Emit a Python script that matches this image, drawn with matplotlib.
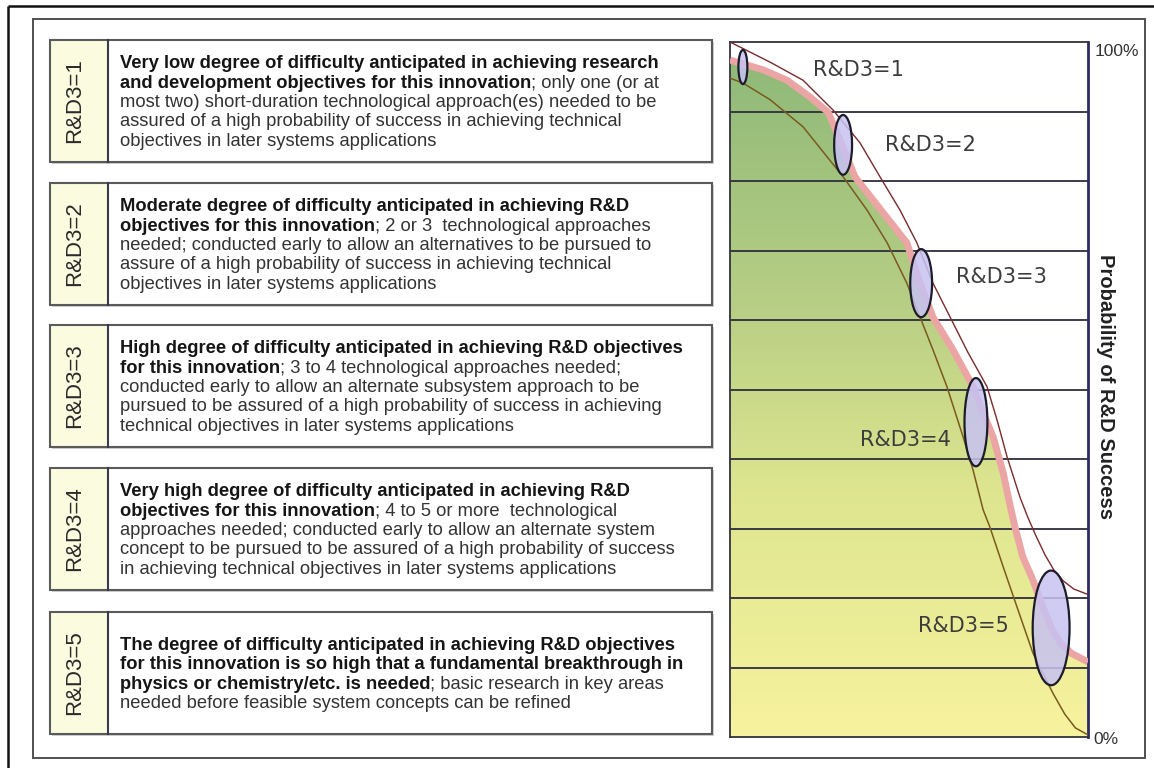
import numpy as np
import matplotlib
matplotlib.use("Agg")
import matplotlib.pyplot as plt
from matplotlib.patches import Rectangle, Ellipse, Polygon
from matplotlib.colors import LinearSegmentedColormap

# ---------------- data ----------------
level_labels = ["R&D3=1", "R&D3=2", "R&D3=3", "R&D3=4", "R&D3=5"]

descriptions = [
    [[("Very low degree of difficulty anticipated in achieving research", True)],
     [("and development objectives for this innovation", True), ("; only one (or at", False)],
     [("most two) short-duration technological approach(es) needed to be", False)],
     [("assured of a high probability of success in achieving technical", False)],
     [("objectives in later systems applications", False)]],
    [[("Moderate degree of difficulty anticipated in achieving R&D", True)],
     [("objectives for this innovation", True), ("; 2 or 3  technological approaches", False)],
     [("needed; conducted early to allow an alternatives to be pursued to", False)],
     [("assure of a high probability of success in achieving technical", False)],
     [("objectives in later systems applications", False)]],
    [[("High degree of difficulty anticipated in achieving R&D objectives", True)],
     [("for this innovation", True), ("; 3 to 4 technological approaches needed;", False)],
     [("conducted early to allow an alternate subsystem approach to be", False)],
     [("pursued to be assured of a high probability of success in achieving", False)],
     [("technical objectives in later systems applications", False)]],
    [[("Very high degree of difficulty anticipated in achieving R&D", True)],
     [("objectives for this innovation", True), ("; 4 to 5 or more  technological", False)],
     [("approaches needed; conducted early to allow an alternate system", False)],
     [("concept to be pursued to be assured of a high probability of success", False)],
     [("in achieving technical objectives in later systems applications", False)]],
    [[("The degree of difficulty anticipated in achieving R&D objectives", True)],
     [("for this innovation is so high that a fundamental breakthrough in", True)],
     [("physics or chemistry/etc. is needed", True), ("; basic research in key areas", False)],
     [("needed before feasible system concepts can be refined", False)]],
]

# curves: x = relative difficulty (0..1), y = probability of success (%)
outer_x = [0.0, 0.112, 0.204, 0.288, 0.363, 0.419, 0.475, 0.522, 0.567, 0.615,
           0.665, 0.718, 0.746, 0.774, 0.810, 0.832, 0.855, 0.880, 0.905, 0.930, 0.960, 1.0]
outer_y = [100.0, 97.1, 94.5, 90.2, 85.5, 80.6, 75.8, 71.1, 65.3, 60.4,
           55.3, 50.4, 45.6, 40.3, 34.5, 31.6, 28.9, 26.2, 24.0, 22.5, 21.3, 20.5]

mid_x = [0.0, 0.092, 0.159, 0.223, 0.274, 0.313, 0.349, 0.422, 0.494, 0.531, 0.567,
         0.623, 0.679, 0.707, 0.735, 0.763, 0.782, 0.796, 0.818, 0.846, 0.874,
         0.902, 0.925, 0.955, 1.0]
mid_y = [97.4, 96.0, 94.5, 92.1, 89.9, 85.2, 80.6, 75.8, 71.1, 65.3, 60.4,
         55.7, 50.4, 46.6, 43.2, 38.0, 33.4, 30.2, 25.9, 22.6, 18.7,
         15.2, 13.4, 12.0, 10.8]

inner_x = [0.0, 0.036, 0.112, 0.204, 0.316, 0.383, 0.439, 0.494, 0.531, 0.567,
           0.606, 0.651, 0.679, 0.707, 0.726, 0.763, 0.791, 0.846, 0.902, 0.935, 0.965, 1.0]
inner_y = [94.8, 94.1, 91.7, 87.8, 80.6, 75.8, 71.1, 65.3, 60.4, 55.7,
           50.4, 43.2, 38.4, 32.7, 30.2, 24.5, 20.3, 12.1, 6.3, 3.3, 1.3, 0.3]

# uncertainty ellipses for each level
ell_x = [0.036, 0.316, 0.534, 0.687, 0.897]
ell_y = [96.4, 85.2, 65.3, 45.3, 15.7]
ell_dx = [0.025, 0.050, 0.061, 0.064, 0.103]
ell_dy = [4.9, 8.6, 9.8, 12.7, 16.5]

# ---------------- layout / style ----------------
W, H = 1154, 768
fig = plt.figure(figsize=(W / 100, H / 100), dpi=100)
ax = fig.add_axes([0, 0, 1, 1])
ax.set_xlim(0, W)
ax.set_ylim(H, 0)
ax.axis("off")

# frames
ax.plot([8, W], [6, 6], color="#111111", lw=1.8, solid_capstyle="butt")
ax.plot([8, 8], [6, H], color="#111111", lw=1.8, solid_capstyle="butt")
ax.add_patch(Rectangle((33, 19), 1145 - 33, 758 - 19, fill=False, ec="#505050", lw=1.4))

FS = 13.2
FAM = "Liberation Sans"
box_tops = [40, 183, 325, 468, 612]
box_h = 122
bx0, bx1, lab_x1 = 50, 712, 108
line_sp = 19.3

renderer = fig.canvas.get_renderer()
inv = ax.transData.inverted()

for i, top in enumerate(box_tops):
    ax.add_patch(Rectangle((bx0 + 1.5, top + 1.5), bx1 - bx0, box_h, fc="#d0d0d0", ec="none", zorder=1))
    ax.add_patch(Rectangle((bx0, top), lab_x1 - bx0, box_h, fc="#fbfbdf", ec="none", zorder=2))
    ax.add_patch(Rectangle((lab_x1, top), bx1 - lab_x1, box_h, fc="white", ec="none", zorder=2))
    ax.add_patch(Rectangle((bx0, top), bx1 - bx0, box_h, fill=False, ec="#5a5a5a", lw=1.5, zorder=3))
    ax.plot([lab_x1, lab_x1], [top, top + box_h], color="#3a3a4a", lw=1.5, zorder=3)
    cy = top + box_h / 2
    ax.text(75, cy, level_labels[i], rotation=90, ha="center", va="center",
            fontsize=16, family=FAM, color="#2a2a2a", zorder=4)
    lines = descriptions[i]
    n = len(lines)
    for j, segs in enumerate(lines):
        yc = cy + (j - (n - 1) / 2) * line_sp
        x = 120
        for txt, bold in segs:
            t = ax.text(x, yc + 6.0, txt, fontsize=FS, family=FAM,
                        fontweight="bold" if bold else "normal",
                        color="#151515" if bold else "#333333",
                        ha="left", va="baseline", zorder=4)
            bb = t.get_window_extent(renderer)
            x = inv.transform((bb.x1, bb.y0))[0]

# ---------------- chart ----------------
cl, ct, cr, cb = 730, 42, 1088, 737
cax = fig.add_axes([cl / W, (H - cb) / H, (cr - cl) / W, (cb - ct) / H])
cax.set_xlim(0, 1)
cax.set_ylim(0, 100)
cax.set_xticks([])
cax.set_yticks([])
cax.set_facecolor("white")

cmap = LinearSegmentedColormap.from_list(
    "gy", [(0.0, (0.97, 0.95, 0.62)), (0.35, (0.87, 0.90, 0.56)),
           (0.62, (0.72, 0.81, 0.52)), (1.0, (0.55, 0.72, 0.47))])
grad = np.linspace(0, 1, 256).reshape(-1, 1)
poly = Polygon(list(zip([0.0] + mid_x + [1.0], [0.0] + mid_y + [0.0])),
               closed=True, fc="none", ec="none", transform=cax.transData)
cax.add_patch(poly)
im = cax.imshow(grad, extent=[0, 1, 0, 100], origin="lower", aspect="auto", cmap=cmap, zorder=1)
im.set_clip_path(poly)

for yv in range(10, 100, 10):
    cax.axhline(yv, color="#2e2e3c", lw=1.3, zorder=2)

cax.plot(mid_x, mid_y, color="#eba5a5", lw=5.0, solid_capstyle="butt", solid_joinstyle="round", zorder=3)
cax.plot(outer_x, outer_y, color="#7a2b2b", lw=1.0, solid_joinstyle="round", zorder=3)
cax.plot(inner_x, inner_y, color="#7a5a1e", lw=1.1, solid_joinstyle="round", zorder=3)

for x, y, dx, dy in zip(ell_x, ell_y, ell_dx, ell_dy):
    cax.add_patch(Ellipse((x, y), dx, dy, fc=(0.78, 0.76, 0.95, 0.85), ec="#1c1c2a", lw=1.6, zorder=5))

label_pos = [(0.358, 96.0), (0.559, 85.2), (0.757, 66.2), (0.489, 42.7), (0.651, 16.0)]
for (lx, ly), lab in zip(label_pos, level_labels):
    cax.text(lx, ly, lab, fontsize=15, family="DejaVu Sans", color="#3c3c3c",
             ha="center", va="center", zorder=6)

for s in ["left", "top", "bottom"]:
    cax.spines[s].set_color("#333340")
    cax.spines[s].set_linewidth(1.3)
cax.spines["right"].set_color("#2a2a66")
cax.spines["right"].set_linewidth(2.0)

ax.text(1095, 51, "100%", fontsize=12.5, family=FAM, color="#333333", ha="left", va="center")
ax.text(1093, 739, "0%", fontsize=12.5, family=FAM, color="#333333", ha="left", va="center")
ax.text(1105, 386, "Probability of R&D Success", rotation=270, fontsize=14.5, fontweight="bold",
        family=FAM, color="#222222", ha="center", va="center")

fig.savefig("out.png", dpi=100)
